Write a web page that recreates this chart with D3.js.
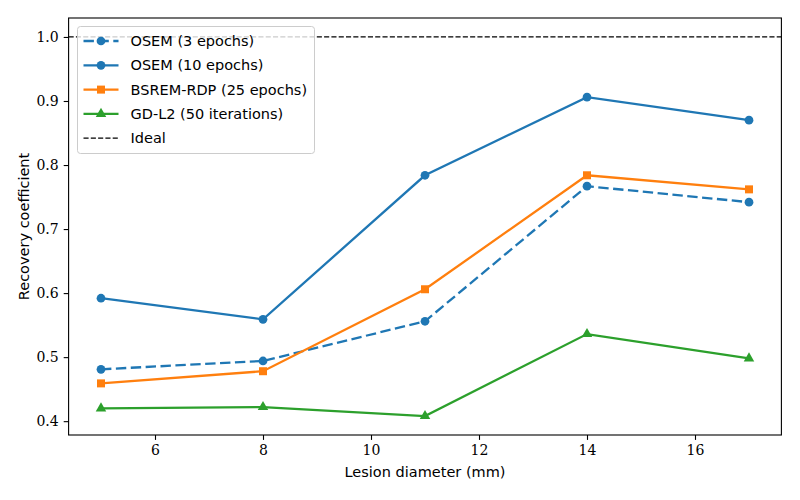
<!DOCTYPE html>
<html lang="en">
  <head>
    <meta charset="utf-8" />
    <title>Recovery coefficient</title>
    <style>
      body {
        margin: 0;
        background: #fff;
      }
      .lbl {
        font-family: "DejaVu Sans", "Liberation Sans", sans-serif;
        font-size: 14.5px;
        fill: #000;
      }
    </style>
  </head>
  <body>
    <svg width="800" height="500"></svg>

    <script src="https://d3js.org/d3.v7.min.js"></script>
    <script>
      // lesion diameters (mm)
      const diameters = [5, 8, 11, 14, 17];

      const osem3 = [0.481, 0.494, 0.556, 0.767, 0.742];
      const osem10 = [0.592, 0.559, 0.784, 0.906, 0.870];
      const bsrem = [0.459, 0.478, 0.606, 0.784, 0.762];
      const gdl2 = [0.420, 0.422, 0.408, 0.536, 0.498];

      const seriesNames = [
        "OSEM (3 epochs)",
        "OSEM (10 epochs)",
        "BSREM-RDP (25 epochs)",
        "GD-L2 (50 iterations)",
      ];
      const idealValue = 1.0;

      const xTicks = [6, 8, 10, 12, 14, 16];
      const yTicks = [0.4, 0.5, 0.6, 0.7, 0.8, 0.9, 1.0];

      const series = [
        { name: seriesNames[0], values: osem3, color: "#1f77b4", dash: "10.4,4.5", marker: "circle" },
        { name: seriesNames[1], values: osem10, color: "#1f77b4", dash: null, marker: "circle" },
        { name: seriesNames[2], values: bsrem, color: "#ff7f0e", dash: null, marker: "square" },
        { name: seriesNames[3], values: gdl2, color: "#2ca02c", dash: null, marker: "triangle" },
      ];

      const axL = 68.6, axR = 781.4, axT = 18, axB = 435;

      const svg = d3.select("svg");

      const x = d3.scaleLinear().domain([4.4, 17.6]).range([axL, axR]);
      const y = d3.scaleLinear().domain([0.3784, 1.0296]).range([axB, axT]);

      // ideal line
      svg
        .append("line")
        .attr("x1", axL)
        .attr("x2", axR)
        .attr("y1", y(idealValue))
        .attr("y2", y(idealValue))
        .attr("stroke", "#000")
        .attr("stroke-width", 1.2)
        .attr("stroke-dasharray", "5.1,2.2");

      const line = d3
        .line()
        .x((d, i) => x(diameters[i]))
        .y((d) => y(d));

      const symbolFor = (m) =>
        m === "circle"
          ? d3.symbol(d3.symbolCircle, 60)
          : m === "square"
          ? d3.symbol(d3.symbolSquare, 64)
          : d3.symbol(d3.symbolTriangle, 48);

      series.forEach((s) => {
        svg
          .append("path")
          .attr("d", line(s.values))
          .attr("fill", "none")
          .attr("stroke", s.color)
          .attr("stroke-width", 2.3)
          .attr("stroke-dasharray", s.dash);
        svg
          .append("g")
          .selectAll("path")
          .data(s.values)
          .join("path")
          .attr("transform", (d, i) => `translate(${x(diameters[i])},${y(d)})`)
          .attr("d", symbolFor(s.marker)())
          .attr("fill", s.color);
      });

      // axes
      const xAxis = svg
        .append("g")
        .attr("transform", `translate(0,${axB})`)
        .call(d3.axisBottom(x).tickValues(xTicks).tickSize(4.9).tickPadding(5).tickFormat(d3.format("d")));
      const yAxis = svg
        .append("g")
        .attr("transform", `translate(${axL},0)`)
        .call(d3.axisLeft(y).tickValues(yTicks).tickSize(4.9).tickPadding(5).tickFormat(d3.format(".1f")));
      [xAxis, yAxis].forEach((a) => {
        a.select(".domain").remove();
        a.attr("font-family", "'DejaVu Serif', serif").attr("font-size", 14);
        a.selectAll(".tick line").attr("stroke", "#000").attr("stroke-width", 1.1);
        a.selectAll(".tick text").attr("fill", "#000");
      });

      svg
        .append("rect")
        .attr("x", axL)
        .attr("y", axT)
        .attr("width", axR - axL)
        .attr("height", axB - axT)
        .attr("fill", "none")
        .attr("stroke", "#000")
        .attr("stroke-width", 1.1);

      svg
        .append("text")
        .attr("class", "lbl")
        .attr("x", (axL + axR) / 2)
        .attr("y", 477)
        .attr("text-anchor", "middle")
        .text("Lesion diameter (mm)");
      svg
        .append("text")
        .attr("class", "lbl")
        .attr("transform", `translate(29,${(axT + axB) / 2}) rotate(-90)`)
        .attr("text-anchor", "middle")
        .text("Recovery coefficient");

      // legend
      const legend = svg.append("g").attr("transform", "translate(77.5,26.5)");
      legend
        .append("rect")
        .attr("width", 237)
        .attr("height", 127)
        .attr("rx", 3)
        .attr("fill", "#fff")
        .attr("fill-opacity", 0.8)
        .attr("stroke", "#ccc")
        .attr("stroke-width", 1);

      const entries = series.concat([{ name: "Ideal", color: "#000", dash: "5.1,2.2", marker: null, thin: true }]);
      entries.forEach((s, i) => {
        const row = legend.append("g").attr("transform", `translate(0,${14.5 + i * 24.3})`);
        row
          .append("line")
          .attr("x1", 6)
          .attr("x2", 41)
          .attr("stroke", s.color)
          .attr("stroke-width", s.thin ? 1.2 : 2.3)
          .attr("stroke-dasharray", s.dash);
        if (s.marker) {
          row
            .append("path")
            .attr("transform", "translate(23.5,0)")
            .attr("d", symbolFor(s.marker)())
            .attr("fill", s.color);
        }
        row
          .append("text")
          .attr("class", "lbl")
          .attr("x", 53)
          .attr("dy", "0.35em")
          .text(s.name);
      });
    </script>
  </body>
</html>
